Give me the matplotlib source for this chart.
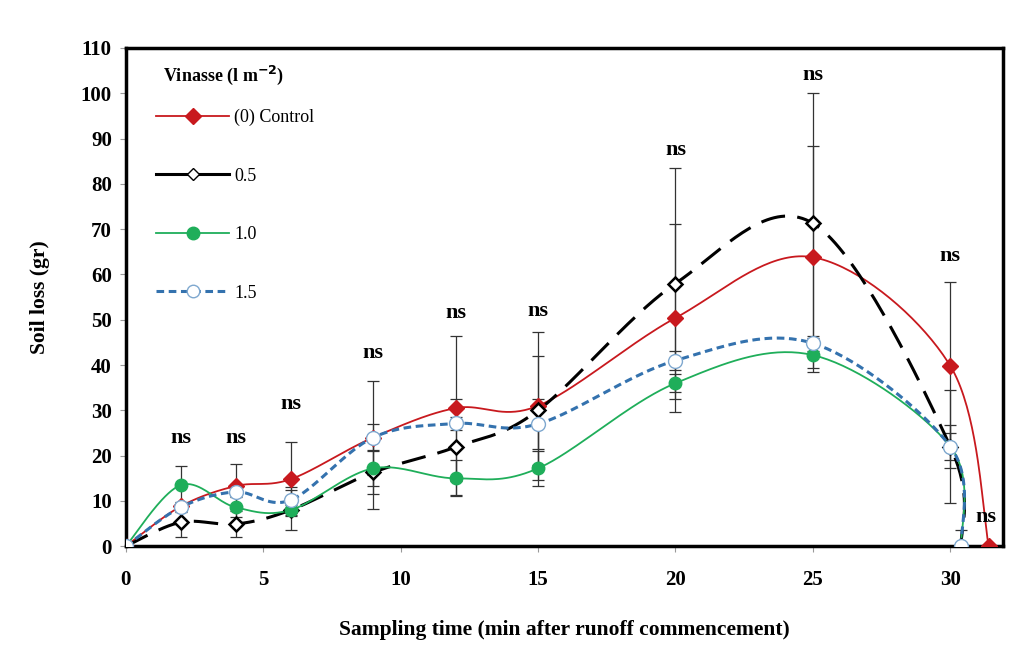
import numpy as np
import matplotlib
matplotlib.use("Agg")
import matplotlib.pyplot as plt
from matplotlib.lines import Line2D

plt.rcParams['font.family'] = ['Liberation Serif', 'DejaVu Serif']

# sampling times (min)
t_main = [0, 2, 4, 6, 9, 12, 15, 20, 25, 30]

# soil loss (gr)
control_x = t_main + [31.4]
control_y = [0, 8.8, 13.3, 14.8, 24.0, 30.5, 31.0, 50.4, 63.8, 39.8, 0]
control_err = [0, 1.0, 4.8, 8.2, 3.0, 16.0, 16.3, 20.7, 24.5, 18.5, 0]

v05_x = t_main + [30.4]
v05_y = [0, 5.3, 4.9, 8.0, 16.3, 21.9, 30.0, 58.0, 71.3, 22.0, 0]
v05_err = [0, 3.3, 2.9, 4.5, 8.0, 10.5, 12.0, 25.5, 28.7, 4.8, 0]

v10_x = t_main + [30.4]
v10_y = [0, 13.5, 8.6, 8.0, 17.2, 15.0, 17.2, 36.0, 42.2, 22.0, 0]
v10_err = [0, 4.2, 2.2, 1.0, 4.0, 4.0, 3.8, 2.0, 3.8, 3.0, 3.5]

v15_x = t_main + [30.4]
v15_y = [0, 8.6, 12.0, 10.2, 24.0, 27.1, 27.0, 41.0, 44.8, 22.0, 0]
v15_err = [0, 1.0, 1.0, 2.8, 12.4, 1.5, 5.5, 2.0, 1.6, 12.5, 0]

ns_x = [2, 4, 6, 9, 12, 15, 20, 25, 30, 31.3]
ns_y = [24, 24, 31.5, 42.6, 51.5, 52, 87.5, 104, 64, 6.4]

SX, SY = 27.5, 4.53  # approx px per data unit, for excel-like smoothing


def smooth(xs, ys, n=40):
    P = np.column_stack([np.array(xs) * SX, np.array(ys) * SY])
    out = []
    for i in range(len(P) - 1):
        p0 = P[i - 1] if i > 0 else P[i]
        p1, p2 = P[i], P[i + 1]
        p3 = P[i + 2] if i + 2 < len(P) else P[i + 1]
        c1 = p1 + (p2 - p0) / 6
        c2 = p2 - (p3 - p1) / 6
        t = np.linspace(0, 1, n)[:, None]
        seg = (1 - t) ** 3 * p1 + 3 * (1 - t) ** 2 * t * c1 + 3 * (1 - t) * t ** 2 * c2 + t ** 3 * p2
        out.append(seg)
    out = np.vstack(out)
    return out[:, 0] / SX, out[:, 1] / SY


fig = plt.figure(figsize=(10.22, 6.48), dpi=100)
ax = fig.add_axes([0.123, 0.157, 0.858, 0.769])

ekw = dict(fmt='none', ecolor='#333333', elinewidth=0.9, capsize=4, capthick=0.9, zorder=2)
ax.errorbar(control_x, control_y, yerr=control_err, **ekw)
ax.errorbar(v05_x, v05_y, yerr=v05_err, **ekw)
ax.errorbar(v10_x, v10_y, yerr=v10_err, **ekw)
ax.errorbar(v15_x, v15_y, yerr=v15_err, **ekw)

red = '#C8191E'
green = '#1FAE5A'
blue = '#3472AE'

sx, sy = smooth(control_x, control_y)
ax.plot(sx, sy, color=red, lw=1.3, zorder=3)
sx, sy = smooth(v05_x, v05_y)
ax.plot(sx, sy, color='black', lw=2.2, dashes=(8, 4), zorder=3)
sx, sy = smooth(v10_x, v10_y)
ax.plot(sx, sy, color=green, lw=1.3, zorder=3)
sx, sy = smooth(v15_x, v15_y)
ax.plot(sx, sy, color=blue, lw=2.2, dashes=(2.5, 1.5), zorder=3)

ax.plot(control_x, control_y, 'D', color=red, ms=8, mec=red, zorder=4)
ax.plot(v05_x, v05_y, 'D', mfc='white', mec='black', mew=1.8, ms=7, zorder=4)
ax.plot(v10_x, v10_y, 'o', color=green, ms=9, mec=green, zorder=4)
ax.plot(v15_x, v15_y, 'o', mfc='white', mec='#7FA8CF', mew=1.0, ms=10, zorder=5)

for x, y in zip(ns_x, ns_y):
    ax.text(x, y, 'ns', ha='center', va='center', fontsize=16, fontweight='bold')

ax.set_xlim(0, 31.9)
ax.set_ylim(0, 110)
ax.set_xticks([0, 5, 10, 15, 20, 25, 30])
ax.set_yticks(np.arange(0, 111, 10))
ax.tick_params(axis='both', length=4, width=0.8, color='#999999', labelsize=15)
ax.tick_params(axis='x', pad=13)
ax.tick_params(axis='y', pad=6)
for lab in ax.get_xticklabels() + ax.get_yticklabels():
    lab.set_fontweight('bold')
for s in ax.spines.values():
    s.set_linewidth(2.5)

ax.set_xlabel('Sampling time (min after runoff commencement)', fontsize=15.5, fontweight='bold', labelpad=22)
ax.set_ylabel('Soil loss (gr)', fontsize=15.5, fontweight='bold', labelpad=22)

# legend title placed as plain text, entries as a legend below it
ax.text(0.042, 0.944, 'Vinasse (l m$^{\\mathbf{-2}}$)', transform=ax.transAxes,
        ha='left', va='center', fontsize=13, fontweight='bold')
handles = [
    Line2D([], [], color=red, lw=1.3, marker='D', ms=8),
    Line2D([], [], color='black', lw=2.2, marker='D', mfc='white', mec='black', ms=6),
    Line2D([], [], color=green, lw=1.3, marker='o', ms=9),
    Line2D([], [], color=blue, lw=2.2, dashes=(2.5, 1.5), marker='o', mfc='white', mec='#7FA8CF', ms=9),
]
leg = ax.legend(handles, ['(0) Control', '0.5', '1.0', '1.5'], loc='upper left',
                bbox_to_anchor=(0.035, 0.878), frameon=False, fontsize=13,
                handlelength=4.0, labelspacing=2.3, handletextpad=0.3,
                borderpad=0, borderaxespad=0)

plt.savefig('out.png', dpi=100)
